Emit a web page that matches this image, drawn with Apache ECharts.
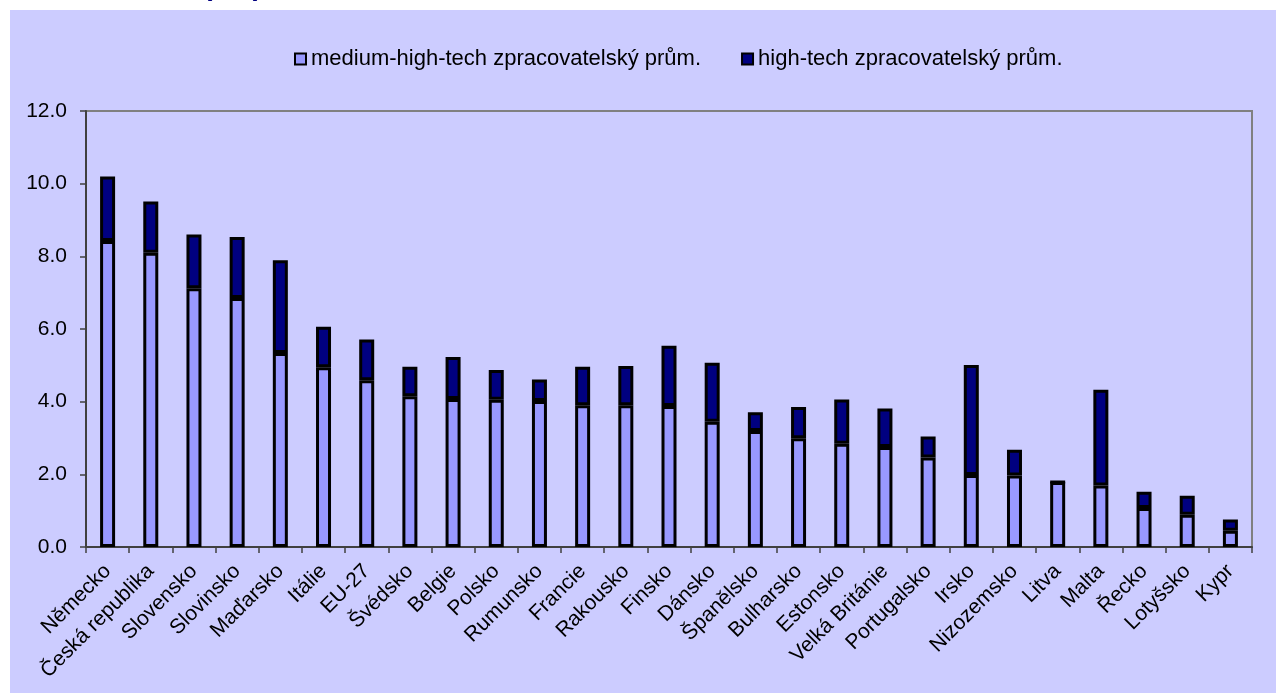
<!DOCTYPE html>
<html>
<head>
<meta charset="utf-8">
<script src="https://cdn.jsdelivr.net/npm/echarts@6/dist/echarts.min.js"></script>
<style>
html,body{margin:0;padding:0;background:#ffffff;}
#chart{width:1276px;height:693px;}
</style>
</head>
<body>
<div id="chart"></div>
<script>
const categories = ["Německo","Česká republika","Slovensko","Slovinsko","Maďarsko","Itálie","EU-27","Švédsko","Belgie","Polsko","Rumunsko","Francie","Rakousko","Finsko","Dánsko","Španělsko","Bulharsko","Estonsko","Velká Británie","Portugalsko","Irsko","Nizozemsko","Litva","Malta","Řecko","Lotyšsko","Kypr"];
const mediumHighTech = [8.42,8.10,7.12,6.85,5.34,4.95,4.59,4.15,4.07,4.05,4.02,3.90,3.90,3.88,3.45,3.19,2.99,2.84,2.75,2.46,1.98,1.97,1.79,1.69,1.07,0.89,0.45];
const highTech = [1.78,1.41,1.48,1.68,2.55,1.11,1.12,0.81,1.16,0.82,0.59,1.06,1.08,1.66,1.62,0.52,0.86,1.22,1.06,0.58,3.03,0.71,0.00,2.64,0.45,0.52,0.31];
const yTicks = [0,2,4,6,8,10,12];
const seriesNames = ["medium-high-tech zpracovatelský prům.","high-tech zpracovatelský prům."];

const chart = echarts.init(document.getElementById('chart'), null, {renderer:'canvas'});
const font = '"Liberation Sans", Arial, sans-serif';
chart.setOption({
  animation:false,
  backgroundColor:'#ffffff',
  textStyle:{fontFamily:font},
  graphic:[
    {type:'rect', z:-10, silent:true, shape:{x:10,y:10,width:1266,height:683}, style:{fill:'#CCCCFF'}},
    {type:'text', left:203, top:-27, silent:true, style:{text:'( % )', fill:'#000080', font:'bold 28px '+font}}
  ],
  legend:{
    left:289, top:43,
    itemWidth:11, itemHeight:11, itemGap:40,
    icon:'rect',
    textStyle:{fontSize:22, color:'#000000', fontFamily:font},
    data:seriesNames
  },
  grid:{left:86, top:111, right:24, bottom:146, show:true, borderColor:'#808080', borderWidth:2, backgroundColor:'transparent'},
  xAxis:{
    type:'category', data:categories,
    axisLine:{lineStyle:{color:'#404040', width:2}},
    axisTick:{show:true, interval:0, length:6, lineStyle:{color:'#404040', width:1.5}},
    axisLabel:{interval:0, rotate:45, margin:21, fontSize:21, color:'#000000', fontFamily:font}
  },
  yAxis:{
    type:'value', min:yTicks[0], max:yTicks[yTicks.length-1], interval:yTicks[1]-yTicks[0],
    axisLine:{show:true, lineStyle:{color:'#404040', width:2}},
    axisTick:{show:true, length:6, lineStyle:{color:'#404040', width:1.5}},
    splitLine:{show:false},
    axisLabel:{margin:19, fontSize:21, color:'#000000', fontFamily:font, formatter:v=>v.toFixed(1)}
  },
  series:[
    {name:seriesNames[0], type:'bar', stack:'s', data:mediumHighTech, barWidth:15,
     itemStyle:{color:'#9999FF', borderColor:'#000000', borderWidth:3}},
    {name:seriesNames[1], type:'bar', stack:'s', data:highTech, barWidth:15,
     itemStyle:{color:'#000080', borderColor:'#000000', borderWidth:3}}
  ]
});
</script>
</body>
</html>
